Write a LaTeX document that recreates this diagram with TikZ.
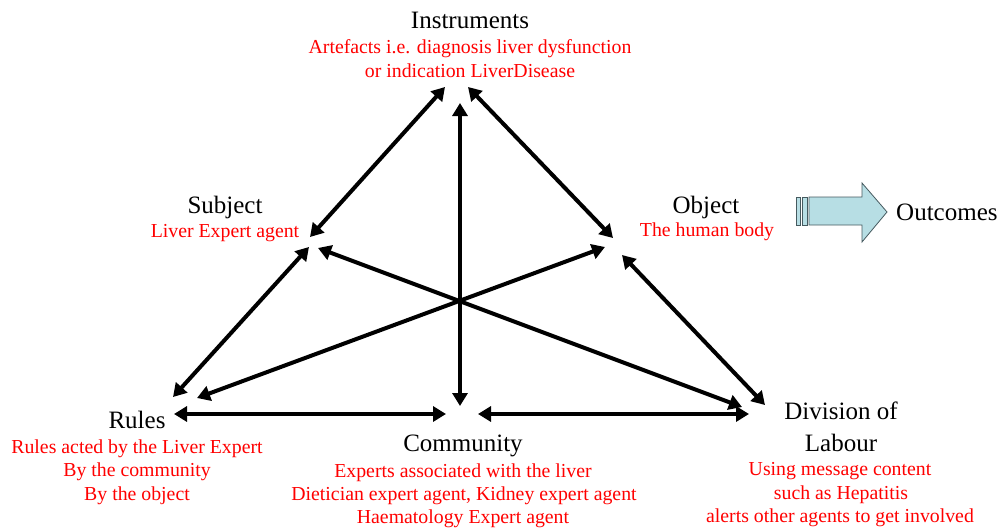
\documentclass[tikz,border=0pt]{standalone}
\usepackage{fontspec}
\setmainfont{Liberation Serif}
\usetikzlibrary{arrows.meta}
\definecolor{outfill}{RGB}{183,222,228}
\definecolor{outline}{RGB}{70,90,95}
\begin{document}
\begin{tikzpicture}[x=1pt,y=-1pt,
  heading/.style={font=\fontsize{25}{28}\selectfont, anchor=base, inner sep=0pt},
  note/.style={font=\fontsize{19.8}{23}\selectfont, text=red, anchor=base, inner sep=0pt},
  link/.style={line width=4pt, {Triangle[length=13pt,width=15pt]}-{Triangle[length=13pt,width=15pt]}},
  outarrow/.style={fill=outfill, draw=outline, line width=0.8pt}]
\useasboundingbox (0,0) rectangle (1002,530);

% Instruments
\node[heading] (instr)  at (470,28) {Instruments};
\node[note]    (instr1) at (470,53) {Artefacts i.e. diagnosis liver dysfunction};
\node[note]    (instr2) at (470,77) {or indication LiverDisease};

% Subject
\node[heading] (subj)  at (225,213) {Subject};
\node[note]    (subj1) at (225,237) {Liver Expert agent};

% Object
\node[heading] (obj)  at (706,213) {Object};
\node[note]    (obj1) at (707,236) {The human body};

% Rules
\node[heading] (rules)  at (137,428) {Rules};
\node[note]    (rules1) at (137,453) {Rules acted by the Liver Expert};
\node[note]    (rules2) at (137,476) {By the community};
\node[note]    (rules3) at (137,500) {By the object};

% Community
\node[heading] (comm)  at (463,451) {Community};
\node[note]    (comm1) at (463,477) {Experts associated with the liver};
\node[note]    (comm2) at (464,500) {Dietician expert agent, Kidney expert agent};
\node[note]    (comm3) at (463,523) {Haematology Expert agent};

% Division of Labour
\node[heading] (div1)  at (841,419) {Division of};
\node[heading] (div2)  at (841,451) {Labour};
\node[note]    (divA)  at (840,475) {Using message content};
\node[note]    (divB)  at (841,499) {such as Hepatitis};
\node[note]    (divC)  at (840,522) {alerts other agents to get involved};

% Outcomes
\node[heading, anchor=base west] (outc) at (896,220) {Outcomes};

% connector ports
\coordinate (I-S) at (445,87);
\coordinate (I-O) at (468,87);
\coordinate (I-C) at (460,103);
\coordinate (S-I) at (310,237);
\coordinate (S-R) at (309,247);
\coordinate (S-D) at (318,248);
\coordinate (O-I) at (613,238);
\coordinate (O-R) at (605,247);
\coordinate (O-D) at (622,255);
\coordinate (R-S) at (173,397);
\coordinate (R-O) at (197,398);
\coordinate (R-C) at (174,414);
\coordinate (C-I) at (460,406);
\coordinate (C-R) at (446,414);
\coordinate (C-D) at (478,414);
\coordinate (D-S) at (742,407);
\coordinate (D-O) at (765,405);
\coordinate (D-C) at (749,414);

% triangle relations
\draw[link] (I-S) -- (S-I);
\draw[link] (I-O) -- (O-I);
\draw[link] (I-C) -- (C-I);
\draw[link] (S-R) -- (R-S);
\draw[link] (S-D) -- (D-S);
\draw[link] (O-R) -- (R-O);
\draw[link] (O-D) -- (D-O);
\draw[link] (R-C) -- (C-R);
\draw[link] (C-D) -- (D-C);

% striped block arrow towards Outcomes
\draw[outarrow] (796,197) rectangle (800,225);
\draw[outarrow] (802,197) rectangle (807,225);
\draw[outarrow] (809,197) -- (862,197) -- (862,183) -- (887,212) -- (862,242) -- (862,225) -- (809,225) -- cycle;
\end{tikzpicture}
\end{document}
